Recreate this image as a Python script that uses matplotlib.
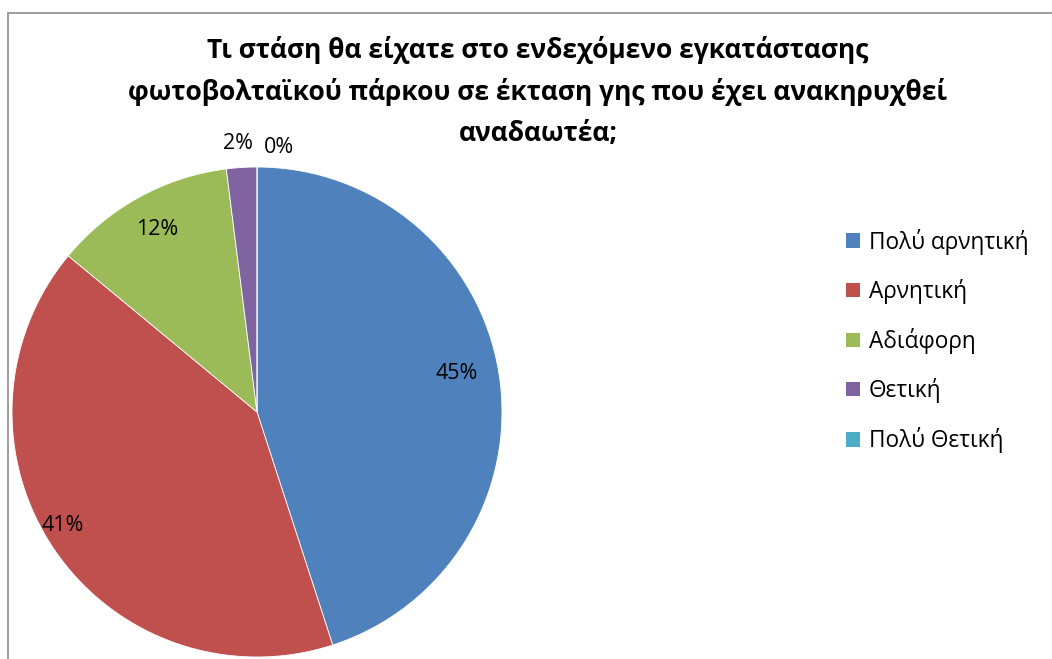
import numpy as np
import matplotlib
matplotlib.use("Agg")
import matplotlib.pyplot as plt
from matplotlib.patches import Rectangle

title_lines = ["Τι στάση θα είχατε στο ενδεχόμενο εγκατάστασης",
               "φωτοβολταϊκού πάρκου σε έκταση γης που έχει ανακηρυχθεί",
               "αναδαωτέα;"]
categories = ["Πολύ αρνητική", "Αρνητική", "Αδιάφορη", "Θετική", "Πολύ Θετική"]
values = [45, 41, 12, 2, 0]
labels = ["45%", "41%", "12%", "2%", "0%"]
colors = ["#4F81BD", "#C0504D", "#9BBB59", "#8064A2", "#4BACC6"]

plt.rcParams['font.family'] = ['Open Sans', 'DejaVu Sans']

W, H = 1052, 659
fig = plt.figure(figsize=(W / 100, H / 100), dpi=100)

# chart frame
fig.patches.append(Rectangle((7.5 / W, -0.01), 1.1, (H - 12.5) / H + 0.01,
                             transform=fig.transFigure, fill=False,
                             edgecolor="#8c8c8c", linewidth=1.2))

cx, cy, r = 257, 412, 245
ax = fig.add_axes([(cx - r) / W, (H - cy - r) / H, 2 * r / W, 2 * r / H])
wedges, _ = ax.pie(values, colors=colors, startangle=90, counterclock=False,
                   radius=1, wedgeprops=dict(edgecolor="white", linewidth=0.6))
ax.set_xlim(-1, 1)
ax.set_ylim(-1, 1)
ax.set_aspect("equal")
ax.axis("off")

dist = [0.83, 0.92, 0.85, 1.10, 1.08]
dang = [2, -4, 0, 0, 0]
dx = [0, 0, 0, -0.01, 0.09]
for w, lab, d, da, ox in zip(wedges, labels, dist, dang, dx):
    ang = np.deg2rad((w.theta1 + w.theta2) / 2 + da)
    ax.text(d * np.cos(ang) + ox, d * np.sin(ang), lab, ha="center", va="center",
            fontsize=15.5, color="black", clip_on=False)

for line, y in zip(title_lines, [50, 92, 133]):
    fig.text(538 / W, 1 - y / H, line, ha="center", va="center", fontsize=19,
             fontweight="bold")

handles = [Rectangle((0, 0), 1, 1, facecolor=c) for c in colors]
fig.legend(handles, categories, loc="center left", bbox_to_anchor=(846 / W, 1 - 341 / H),
           frameon=False, fontsize=16.3, handlelength=0.6, handleheight=0.6,
           handletextpad=0.4, labelspacing=1.07, borderaxespad=0, borderpad=0)

fig.savefig("out.png", dpi=100)
